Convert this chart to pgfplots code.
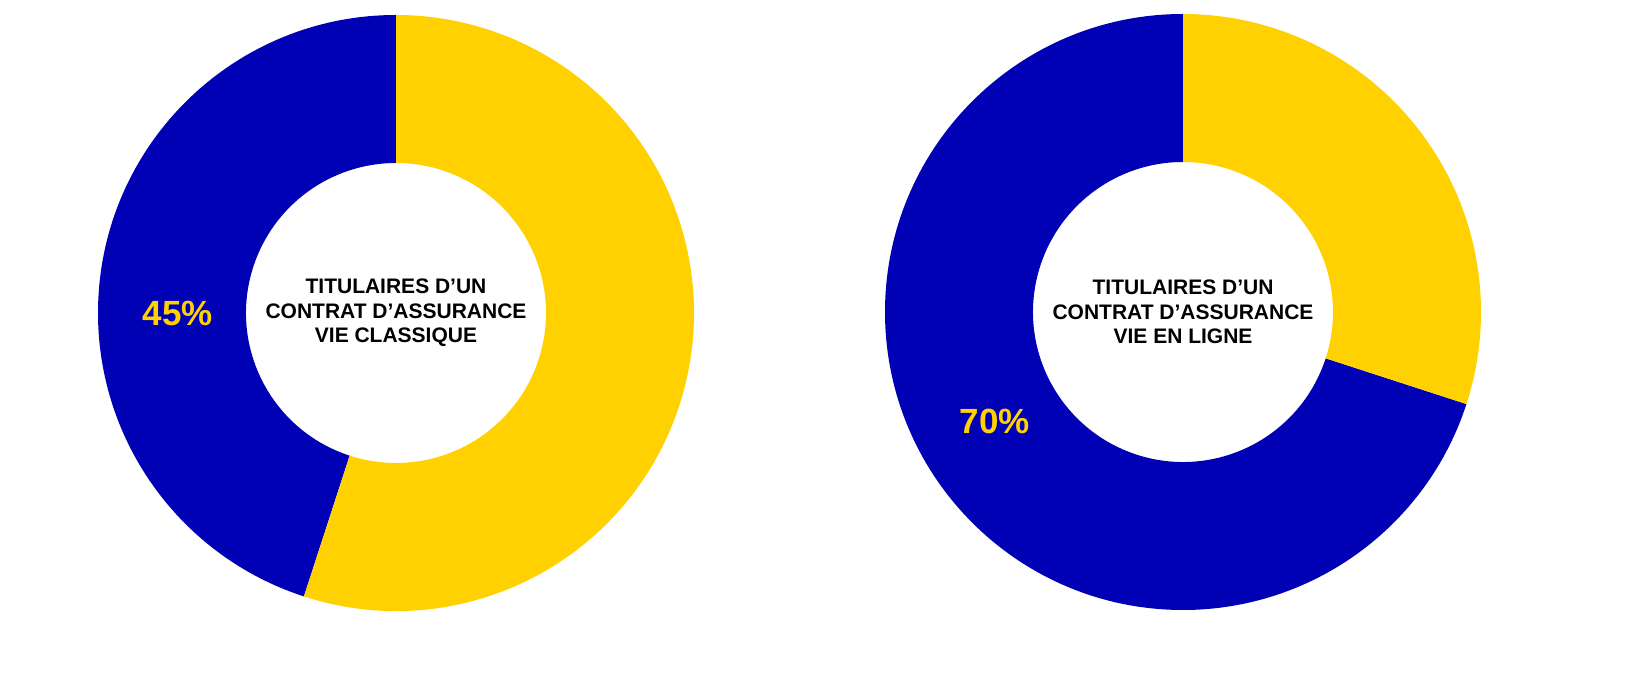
\documentclass[border=0pt]{standalone}
\usepackage{pgfplots}
\pgfplotsset{compat=1.18}
\usepackage{pgfplotstable}
\usepackage{fontspec}
\setmainfont{Liberation Sans}
\usetikzlibrary{calc}

\definecolor{donutblue}{HTML}{0000B5}
\definecolor{donutyellow}{HTML}{FFD100}

% one row per donut: share of "blue" in percent, centre in pixel units,
% position of the percentage label
\pgfplotstableread{
name      blue  cx    cy   lx    ly
classique 45    396   383  178   383
enligne   70    1183  384  995   275
}\donuts

\newcommand{\Ro}{149pt}
\newcommand{\Ri}{75pt}

% #1 value, #2 cx, #3 cy, #4 lx, #5 ly, #6 centre text
\newcommand{\drawdonut}[6]{%
  \coordinate (c) at (axis cs:#2,#3);
  \fill[donutblue] ($(c)+(90:\Ro)$) arc[start angle=90,end angle={90+3.6*#1},radius=\Ro]
    -- ($(c)+({90+3.6*#1}:\Ri)$) arc[start angle={90+3.6*#1},end angle=90,radius=\Ri] -- cycle;
  \fill[donutyellow] ($(c)+({90+3.6*#1}:\Ro)$) arc[start angle={90+3.6*#1},end angle=450,radius=\Ro]
    -- ($(c)+(450:\Ri)$) arc[start angle=450,end angle={90+3.6*#1},radius=\Ri] -- cycle;
  \node[align=center,font=\bfseries\fontsize{10.5}{12.3}\selectfont] at (c) {#6};
  \node[text=donutyellow,font=\bfseries\fontsize{17.5}{20}\selectfont]
    at (axis cs:#4,#5) {#1\%};
}

\newcommand{\donut}[2]{%
  \pgfplotstablegetelem{#1}{blue}\of\donuts \let\val\pgfplotsretval
  \pgfplotstablegetelem{#1}{cx}\of\donuts \let\cx\pgfplotsretval
  \pgfplotstablegetelem{#1}{cy}\of\donuts \let\cy\pgfplotsretval
  \pgfplotstablegetelem{#1}{lx}\of\donuts \let\lx\pgfplotsretval
  \pgfplotstablegetelem{#1}{ly}\of\donuts \let\ly\pgfplotsretval
  \edef\next{\noexpand\drawdonut{\val}{\cx}{\cy}{\lx}{\ly}}%
  \next{#2}%
}

\begin{document}
\begin{tikzpicture}
\begin{axis}[
    x=0.5pt, y=0.5pt,
    xmin=0, xmax=1648, ymin=0, ymax=696,
    scale only axis,
    hide axis,
    clip=false,
]
\donut{0}{TITULAIRES D’UN\\CONTRAT D’ASSURANCE\\VIE CLASSIQUE}
\donut{1}{TITULAIRES D’UN\\CONTRAT D’ASSURANCE\\VIE EN LIGNE}
\end{axis}
\pgfresetboundingbox
\path (0,0) rectangle (824pt,348pt);
\end{tikzpicture}
\end{document}
